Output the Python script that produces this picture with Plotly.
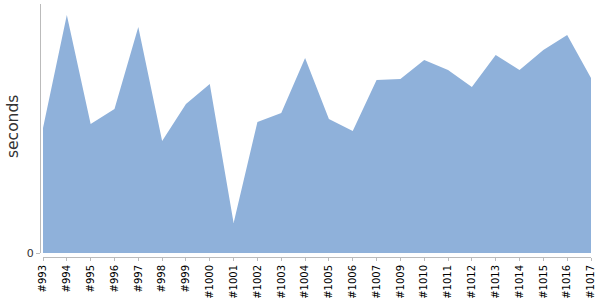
import plotly.graph_objects as go

builds = ["#993", "#994", "#995", "#996", "#997", "#998", "#999", "#1000", "#1001",
          "#1002", "#1003", "#1004", "#1005", "#1006", "#1007", "#1009", "#1010",
          "#1011", "#1012", "#1013", "#1014", "#1015", "#1016", "#1017"]
seconds = [125, 238, 129, 144, 226, 112, 149, 169, 30, 131, 140, 195, 134, 122,
           173, 174, 193, 183, 166, 198, 183, 203, 218, 175]

idx = list(range(len(builds)))

fig = go.Figure()
fig.add_trace(go.Scatter(
    x=idx, y=seconds, mode="lines", fill="tozeroy",
    line=dict(width=0, color="#8fb1da"), fillcolor="#8fb1da",
    hoverinfo="skip", showlegend=False,
))

W0, W1 = 40, 594
fig.update_layout(
    width=600, height=300,
    margin=dict(l=40, r=600 - W1, t=4, b=43, autoexpand=False),
    paper_bgcolor="white", plot_bgcolor="white",
    xaxis=dict(
        domain=[(43 - W0) / (W1 - W0), (591 - W0) / (W1 - W0)],
        range=[0, len(builds) - 1],
        tickmode="array", tickvals=idx, ticktext=builds,
        tickangle=-90, ticks="outside", ticklen=3, tickcolor="#bbbbbb",
        showline=True, linecolor="#bbbbbb", linewidth=1,
        showgrid=False, zeroline=False, automargin=False,
        anchor="free", position=0,
        tickfont=dict(family="DejaVu Sans", size=10, color="#000000"),
    ),
    yaxis=dict(
        domain=[4 / 253, 1],
        range=[0, 249],
        tickmode="array", tickvals=[0], ticktext=["0"],
        ticks="outside", ticklen=4, tickcolor="#bbbbbb",
        showline=True, linecolor="#bbbbbb", linewidth=1,
        showgrid=False, zeroline=False, automargin=False,
        anchor="free", position=0,
        tickfont=dict(family="DejaVu Sans", size=11, color="#333333"),
    ),
    annotations=[dict(
        text="seconds", textangle=-90, xref="paper", yref="paper",
        x=0, y=(257 - 127) / 253, xanchor="center", yanchor="middle",
        xshift=-27, showarrow=False,
        font=dict(family="DejaVu Sans", size=15.5, color="#333333"),
    )],
)

fig.write_html("out.html")
